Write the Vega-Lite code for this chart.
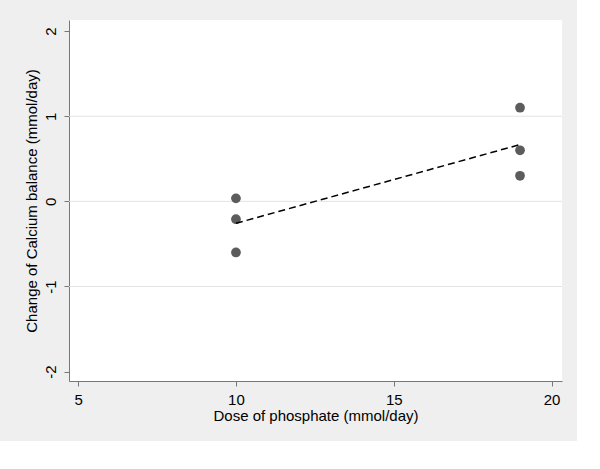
{
  "$schema": "https://vega.github.io/schema/vega-lite/v6.json",
  "autosize": "none",
  "width": 493,
  "height": 361,
  "padding": {"left": 69, "top": 20, "right": 15, "bottom": 60},
  "background": "#EFEFEF",
  "config": {
    "view": {"fill": "white", "stroke": null},
    "font": "Liberation Sans",
    "axis": {
      "domainColor": "#777777",
      "tickColor": "#777777",
      "labelColor": "black",
      "titleColor": "black",
      "labelFont": "Liberation Sans",
      "titleFont": "Liberation Sans",
      "labelFontSize": 15,
      "titleFontSize": 15,
      "titleFontWeight": "normal",
      "tickSize": 5,
      "grid": false
    }
  },
  "datasets": {
    "pts": [
      {"dose": 10, "change": 0.035},
      {"dose": 10, "change": -0.21},
      {"dose": 10, "change": -0.6},
      {"dose": 19, "change": 1.1},
      {"dose": 19, "change": 0.6},
      {"dose": 19, "change": 0.3}
    ],
    "fit": [
      {"dose": 10, "change": -0.258},
      {"dose": 19, "change": 0.667}
    ],
    "grid": [{"g": -1}, {"g": 0}, {"g": 1}]
  },
  "layer": [
    {
      "data": {"name": "grid"},
      "mark": {"type": "rule", "color": "#E3E3E3", "strokeWidth": 1},
      "encoding": {
        "y": {"field": "g", "type": "quantitative",
              "scale": {"domain": [-2.11, 2.13], "nice": false, "zero": false},
              "axis": {"values": [-2, -1, 0, 1, 2], "labelExpr": "'' + datum.value", "title": "Change of Calcium balance (mmol/day)", "labelAngle": -90, "labelAlign": "center", "labelBaseline": "bottom", "labelPadding": 6, "titlePadding": 4, "labelFlush": false}}
      }
    },
    {
      "data": {"name": "pts"},
      "mark": {"type": "circle", "size": 95, "color": "#5C5C5C", "opacity": 1},
      "encoding": {
        "x": {"field": "dose", "type": "quantitative",
              "scale": {"domain": [4.71, 20.33], "nice": false, "zero": false},
              "axis": {"values": [5, 10, 15, 20], "format": "d", "title": "Dose of phosphate (mmol/day)", "labelPadding": 6, "titlePadding": 1, "labelFlush": false}},
        "y": {"field": "change", "type": "quantitative"}
      }
    },
    {
      "data": {"name": "fit"},
      "mark": {"type": "line", "color": "black", "strokeWidth": 1.5, "strokeDash": [7, 4]},
      "encoding": {
        "x": {"field": "dose", "type": "quantitative"},
        "y": {"field": "change", "type": "quantitative"}
      }
    }
  ]
}
